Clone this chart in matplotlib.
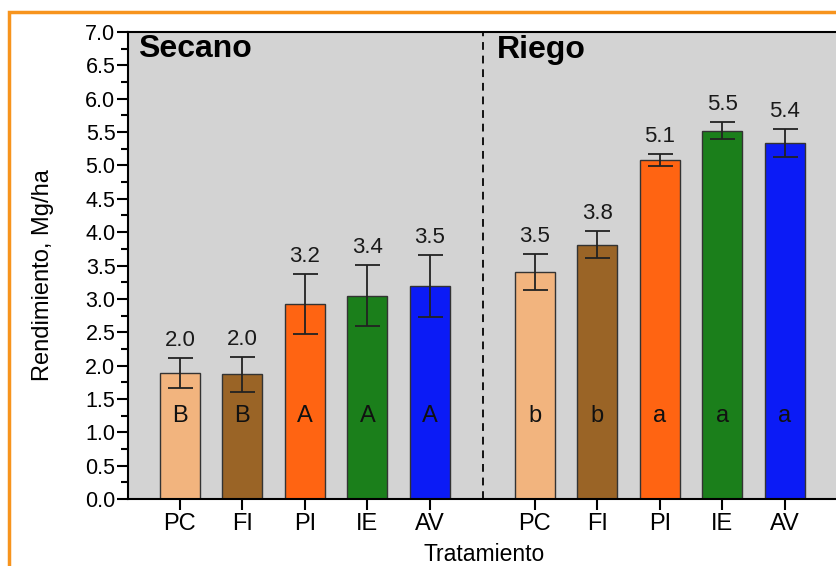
import numpy as np
import matplotlib.pyplot as plt
from matplotlib.patches import Rectangle
from matplotlib.ticker import MultipleLocator

plt.rcParams['font.family'] = ['Liberation Sans', 'DejaVu Sans']

# data
treatments = ['PC', 'FI', 'PI', 'IE', 'AV']
secano_mean = [1.89, 1.87, 2.92, 3.05, 3.19]
secano_err = [0.23, 0.26, 0.45, 0.46, 0.46]
secano_lbl = ['2.0', '2.0', '3.2', '3.4', '3.5']
secano_let = ['B', 'B', 'A', 'A', 'A']
riego_mean = [3.40, 3.81, 5.08, 5.52, 5.33]
riego_err = [0.27, 0.20, 0.09, 0.13, 0.21]
riego_lbl = ['3.5', '3.8', '5.1', '5.5', '5.4']
riego_let = ['b', 'b', 'a', 'a', 'a']
colors = ['#F2B47E', '#9A6426', '#FF6412', '#1B7F1B', '#0B1BF6']

fig = plt.figure(figsize=(8.36, 5.66), dpi=100)

# orange frame around the figure
fig.patches.append(Rectangle((9/836, -0.05), 1.2, 1 - 12/566 + 0.05,
                             transform=fig.transFigure, fill=False,
                             edgecolor='#F7941D', linewidth=2.5))

ax = fig.add_axes([128/836, 1 - 499/566, 708/836, 467/566])
ax.set_facecolor('#D3D3D3')

x_sec = np.arange(5)
x_rie = np.arange(5) + 5.68
xs = np.concatenate([x_sec, x_rie])
means = secano_mean + riego_mean
errs = secano_err + riego_err
lbls = secano_lbl + riego_lbl
lets = secano_let + riego_let

ax.bar(xs, means, width=0.64, color=colors * 2, edgecolor='#333333',
       linewidth=1.0, zorder=2)
ax.errorbar(xs, means, yerr=errs, fmt='none', ecolor='#222222',
            elinewidth=1.3, capsize=9, capthick=1.3, zorder=3)

for x, m, e, l, t in zip(xs, means, errs, lbls, lets):
    ax.text(x, m + e + 0.18, l, ha='center', va='baseline', fontsize=16,
            color='#1a1a1a')
    ax.text(x, 1.15, t, ha='center', va='baseline', fontsize=17,
            color='#111111')

ax.axvline(4.85, color='#111111', linestyle=(0, (4, 3)), linewidth=1.4,
           zorder=1)

ax.text(0.014, 0.946, 'Secano', transform=ax.transAxes, fontsize=23,
        fontweight='bold', ha='left', va='baseline')
ax.text(0.521, 0.944, 'Riego', transform=ax.transAxes, fontsize=23,
        fontweight='bold', ha='left', va='baseline')

ax.set_xlim(-0.83, 10.5)
ax.set_ylim(0, 7.0)
ax.set_xticks(xs)
ax.set_xticklabels(treatments * 2, fontsize=17)
ax.yaxis.set_major_locator(MultipleLocator(0.5))
ax.yaxis.set_minor_locator(MultipleLocator(0.25))
ax.set_yticks(np.arange(0, 7.01, 0.5))
ax.set_yticklabels(['%.1f' % v for v in np.arange(0, 7.01, 0.5)], fontsize=15.5)
ax.tick_params(axis='both', which='major', length=8, width=1.5, direction='out')
ax.tick_params(axis='y', which='minor', length=5, width=1.5, direction='out')
ax.tick_params(axis='x', pad=2)
ax.tick_params(axis='y', pad=1)

for s in ['left', 'bottom', 'top']:
    ax.spines[s].set_linewidth(1.5)
ax.spines['right'].set_visible(False)

ax.set_ylabel('Rendimiento, Mg/ha', fontsize=17)
ax.yaxis.set_label_coords(-0.1045, 0.48)
fig.text(484/836, 5/566, 'Tratamiento', fontsize=16.5, ha='center',
         va='baseline')

fig.savefig('out.png', dpi=100)
